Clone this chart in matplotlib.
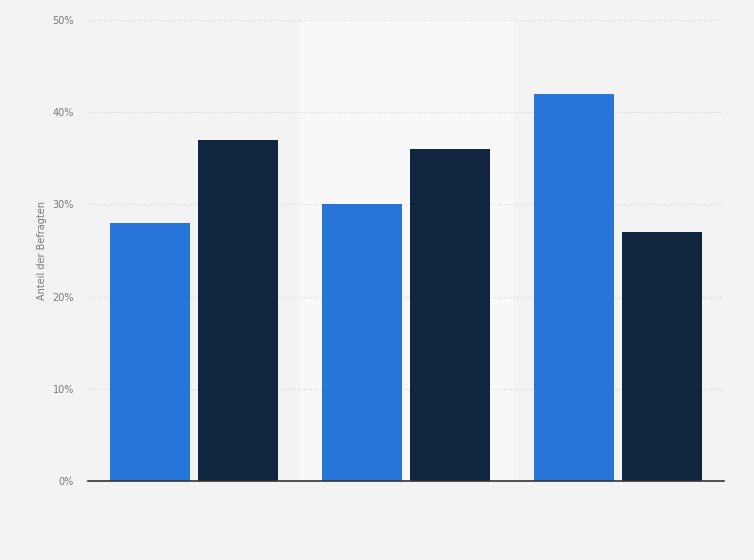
import numpy as np
import matplotlib.pyplot as plt
from matplotlib.ticker import FuncFormatter

groups = ['A', 'B', 'C']
series_a = [28, 30, 42]
series_b = [37, 36, 27]
yticks = [0, 10, 20, 30, 40, 50]

fig = plt.figure(figsize=(7.54, 5.6), dpi=100)
fig.patch.set_facecolor('#f3f3f3')
ax = fig.add_axes([88 / 754, 79 / 560, 636 / 754, 461 / 560])
ax.set_facecolor('#f3f3f3')

x = np.arange(len(groups))
w = 0.377
off = 0.2075
# lighter band behind middle group
ax.axvspan(0.5, 1.5, color='#f8f8f8', zorder=0)
ax.bar(x - off, series_a, w, color='#2775d9', zorder=3)
ax.bar(x + off, series_b, w, color='#0f263e', zorder=3)

ax.set_xlim(-0.5, 2.5)
ax.set_ylim(0, 50)
ax.set_yticks(yticks)
ax.yaxis.set_major_formatter(FuncFormatter(lambda v, p: f'{int(v)}%'))
ax.set_xticks([])
ax.grid(axis='y', color='#dedede', linestyle=(0, (1, 1)), linewidth=0.8, zorder=1)
for s in ['top', 'right', 'left']:
    ax.spines[s].set_visible(False)
ax.spines['bottom'].set_color('#333333')
ax.spines['bottom'].set_linewidth(1.2)
ax.spines['bottom'].set_zorder(4)
ax.tick_params(axis='y', length=0, labelsize=7, labelcolor='#777777', pad=10)
ax.set_ylabel('Anteil der Befragten', fontsize=7, color='#777777', labelpad=4)

plt.savefig('out.png', dpi=100, facecolor=fig.get_facecolor())
